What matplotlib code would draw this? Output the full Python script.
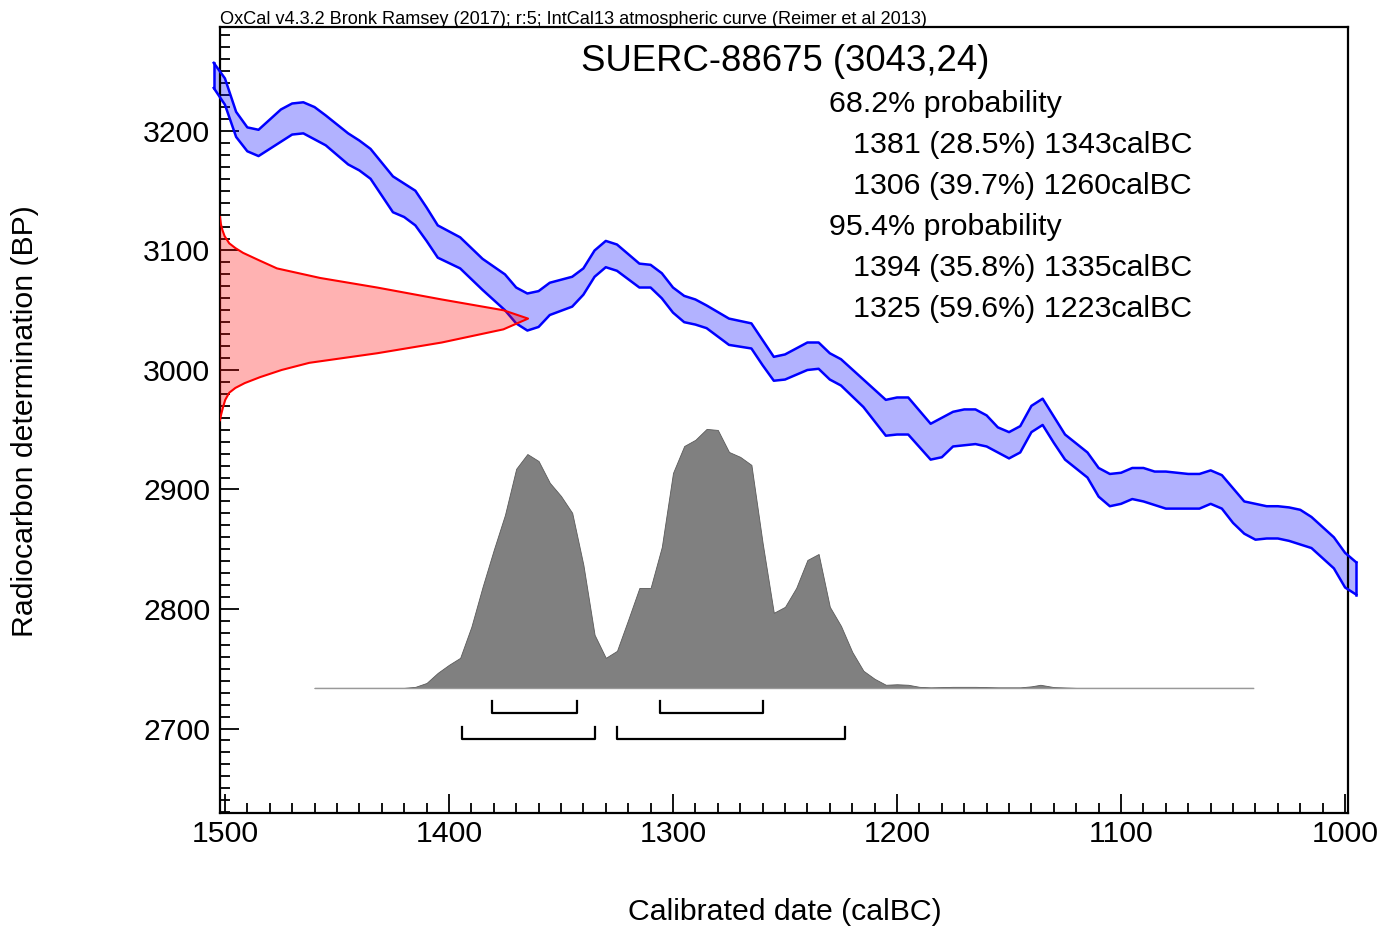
"""
OxCal calibration plot for SUERC-88675 (3043 +/- 24 BP) against IntCal13.
"""

import matplotlib
matplotlib.use('Agg')
import matplotlib.pyplot as plt
from matplotlib.ticker import MultipleLocator

plt.rcParams['font.family'] = ['Liberation Sans', 'DejaVu Sans']

# IntCal13 curve band (calBC, upper / lower edge in BP)
curve_year = [1505, 1500, 1495, 1490, 1485, 1475, 1470, 1465, 1460, 1455,
              1445, 1440, 1435, 1425, 1420, 1415, 1410, 1405, 1395, 1385,
              1375, 1370, 1365, 1360, 1355, 1345, 1340, 1335, 1330, 1325,
              1315, 1310, 1305, 1300, 1295, 1290, 1285, 1275, 1265, 1260,
              1255, 1250, 1240, 1235, 1230, 1225, 1215, 1205, 1200, 1195,
              1185, 1180, 1175, 1170, 1165, 1160, 1155, 1150, 1145, 1140,
              1135, 1130, 1125, 1115, 1110, 1105, 1100, 1095, 1090, 1085,
              1080, 1070, 1065, 1060, 1055, 1050, 1045, 1040, 1035, 1030,
              1025, 1020, 1015, 1005, 1000, 995]
curve_hi = [3257, 3244, 3216, 3203, 3201, 3218, 3223, 3224, 3220, 3213,
            3198, 3192, 3185, 3162, 3156, 3150, 3136, 3121, 3111, 3093,
            3080, 3069, 3064, 3066, 3073, 3078, 3085, 3100, 3108, 3105,
            3089, 3088, 3081, 3069, 3062, 3059, 3054, 3043, 3039, 3025,
            3011, 3013, 3023, 3023, 3014, 3009, 2992, 2975, 2977, 2977,
            2955, 2960, 2965, 2967, 2967, 2962, 2952, 2948, 2953, 2970,
            2976, 2961, 2946, 2931, 2918, 2913, 2914, 2918, 2918, 2915,
            2915, 2913, 2913, 2916, 2912, 2901, 2890, 2888, 2886, 2886,
            2885, 2883, 2877, 2860, 2847, 2839]
curve_lo = [3236, 3222, 3195, 3183, 3179, 3191, 3197, 3198, 3193, 3188,
            3172, 3167, 3160, 3132, 3128, 3121, 3108, 3094, 3085, 3067,
            3050, 3039, 3033, 3036, 3046, 3053, 3063, 3078, 3086, 3083,
            3069, 3069, 3060, 3048, 3040, 3038, 3035, 3021, 3018, 3004,
            2991, 2992, 3000, 3001, 2992, 2987, 2969, 2945, 2946, 2946,
            2925, 2927, 2936, 2937, 2938, 2936, 2931, 2926, 2931, 2948,
            2954, 2939, 2925, 2910, 2894, 2886, 2888, 2892, 2890, 2887,
            2884, 2884, 2884, 2888, 2884, 2872, 2863, 2858, 2859, 2859,
            2857, 2854, 2851, 2834, 2818, 2812]

# radiocarbon measurement profile (BP, relative probability)
date_bp = [3128, 3122, 3117, 3112, 3106, 3102, 3098, 3092, 3085, 3077,
           3069, 3059, 3050, 3043, 3034, 3023, 3014, 3006, 3000, 2994,
           2989, 2985, 2981, 2975, 2969, 2963, 2958]
date_prob = [0.0, 0.003, 0.008, 0.015, 0.03, 0.05, 0.075, 0.125, 0.185, 0.325,
             0.51, 0.72, 0.92, 1.0, 0.92, 0.72, 0.51, 0.29, 0.2, 0.13,
             0.08, 0.05, 0.03, 0.017, 0.01, 0.004, 0.0]

# calibrated date distribution (calBC, relative probability)
cal_year = [1460, 1420, 1415, 1410, 1405, 1400, 1395, 1390, 1385, 1380,
            1375, 1370, 1365, 1360, 1355, 1350, 1345, 1340, 1335, 1330,
            1325, 1320, 1315, 1310, 1305, 1300, 1295, 1290, 1285, 1280,
            1275, 1270, 1265, 1260, 1255, 1250, 1245, 1240, 1235, 1230,
            1225, 1220, 1215, 1210, 1205, 1200, 1195, 1190, 1185, 1175,
            1165, 1155, 1145, 1140, 1136, 1130, 1120, 1041]
cal_prob = [0.0, 0.0, 0.004, 0.019, 0.058, 0.089, 0.116, 0.236, 0.39, 0.533,
            0.668, 0.846, 0.903, 0.876, 0.792, 0.741, 0.676, 0.475, 0.205, 0.116,
            0.143, 0.263, 0.386, 0.386, 0.544, 0.830, 0.934, 0.958, 1.0, 0.996,
            0.911, 0.892, 0.861, 0.560, 0.290, 0.313, 0.386, 0.494, 0.517, 0.313,
            0.239, 0.139, 0.066, 0.035, 0.012, 0.014, 0.012, 0.004, 0.002, 0.004,
            0.004, 0.002, 0.002, 0.006, 0.012, 0.003, 0.0, 0.0]

# highest probability ranges (calBC from, to)
range_68 = [(1381, 1343), (1306, 1260)]
range_95 = [(1394, 1335), (1325, 1223)]

text_lines = [('68.2% probability', 0),
              ('1381 (28.5%) 1343calBC', 1),
              ('1306 (39.7%) 1260calBC', 1),
              ('95.4% probability', 0),
              ('1394 (35.8%) 1335calBC', 1),
              ('1325 (59.6%) 1223calBC', 1)]

W, H = 1382, 930
fig = plt.figure(figsize=(W / 100, H / 100), dpi=100)
ax = fig.add_axes([220 / W, 1 - 813 / H, 1128 / W, 786 / H])

x_left, x_right = 1502.2, 998.7
ax.set_xlim(x_left, x_right)
ax.set_ylim(2629.3, 3287)

# calibration curve band
ax.fill_between(curve_year, curve_lo, curve_hi, facecolor=(0, 0, 1, 0.3),
                edgecolor='none', clip_on=False, zorder=2)
ax.plot(curve_year, curve_hi, color='blue', lw=1.8, clip_on=False, zorder=3)
ax.plot(curve_year, curve_lo, color='blue', lw=1.8, clip_on=False, zorder=3)
ax.plot([curve_year[0]] * 2, [curve_lo[0], curve_hi[0]], color='blue', lw=1.8,
        clip_on=False, zorder=3)
ax.plot([curve_year[-1]] * 2, [curve_lo[-1], curve_hi[-1]], color='blue', lw=1.8,
        clip_on=False, zorder=3)

# measurement on the y axis
red_w = 137.5
red_x = [x_left - p * red_w for p in date_prob]
ax.fill_betweenx(date_bp, x_left, red_x, facecolor=(1, 0, 0, 0.3),
                 edgecolor='none', zorder=4)
ax.plot(red_x, date_bp, color='red', lw=1.5, zorder=5)

# calibrated distribution
base = 2734
cal_h = 216.7
ax.fill_between(cal_year, base, [base + p * cal_h for p in cal_prob],
                facecolor='#808080', edgecolor='#5a5a5a', lw=0.6, zorder=2)
ax.plot([cal_year[0], cal_year[-1]], [base, base], color='#999999', lw=1.0, zorder=2)

# range brackets
for ranges, y in ((range_68, 2713), (range_95, 2691)):
    for a, b in ranges:
        ax.plot([a, a, b, b], [y + 10, y, y, y + 10], color='black', lw=1.6,
                zorder=3)

# axes styling
for sp in ax.spines.values():
    sp.set_linewidth(1.6)
ax.xaxis.set_major_locator(MultipleLocator(100))
ax.xaxis.set_minor_locator(MultipleLocator(10))
ax.yaxis.set_major_locator(MultipleLocator(100))
ax.yaxis.set_minor_locator(MultipleLocator(10))
ax.tick_params(which='both', direction='in', top=False, right=False, width=1.3)
ax.tick_params(which='major', length=14, labelsize=21.8)
ax.tick_params(which='minor', length=7)
ax.tick_params(axis='y', which='major', pad=7)
ax.tick_params(axis='x', which='major', pad=5)

# texts
fig.text(220 / W, 1 - 24 / H,
         'OxCal v4.3.2 Bronk Ramsey (2017); r:5; IntCal13 atmospheric curve '
         '(Reimer et al 2013)', fontsize=13.1, va='baseline', ha='left')
fig.text(785 / W, 1 - 71 / H, 'SUERC-88675 (3043,24)', fontsize=26.3,
         va='baseline', ha='center')
for i, (line, indent) in enumerate(text_lines):
    x = 853 if indent else 829
    fig.text(x / W, 1 - (112 + 41 * i) / H, line, fontsize=21.9,
             va='baseline', ha='left')

fig.text(785 / W, 1 - 912 / H, 'Calibrated date (calBC)', fontsize=21.8,
         ha='center', va='center')
fig.text(25 / W, 1 - 421 / H, 'Radiocarbon determination (BP)', fontsize=21.8,
         ha='center', va='center', rotation=90)

fig.savefig('out.png', dpi=100)
